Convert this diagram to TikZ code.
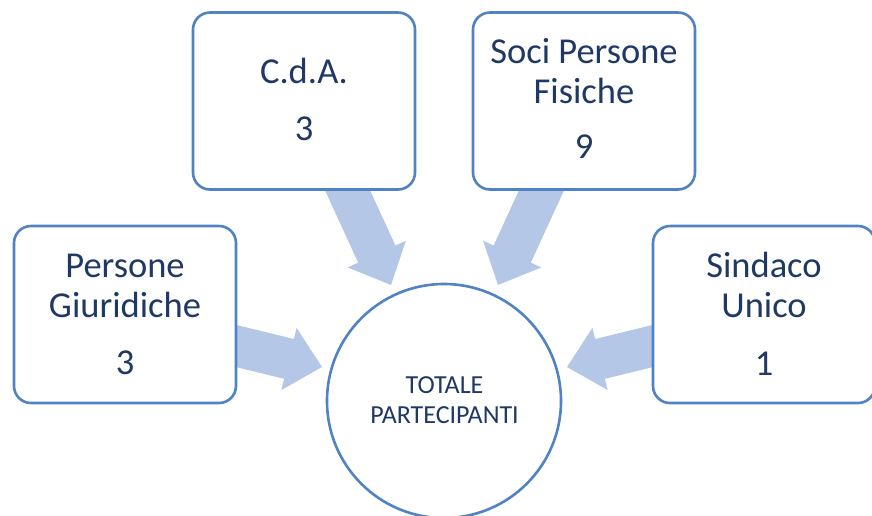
\documentclass[tikz,border=0pt]{standalone}
\usepackage{fontspec}
\setmainfont{Carlito}
\usetikzlibrary{calc}
\definecolor{bord}{HTML}{5082C4}
\definecolor{arrc}{HTML}{B4C7E7}
\definecolor{txtc}{HTML}{1F3864}
\newcommand{\blockarrow}[2]{%
  \coordinate (hb) at ($(#2)!34pt!(#1)$);
  \fill[arrc] ($(#1)!20.5pt!90:(#2)$) -- ($(hb)!20.5pt!90:(#2)$) -- ($(hb)!32pt!90:(#2)$) -- (#2)
    -- ($(hb)!32pt!-90:(#2)$) -- ($(hb)!20.5pt!-90:(#2)$) -- ($(#1)!20.5pt!-90:(#2)$) -- cycle;}
\tikzset{
  box/.style={draw=bord, line width=2.6pt, fill=white, rounded corners=17pt,
    minimum width=222pt, minimum height=177pt, inner sep=0pt},
  circ/.style={draw=bord, line width=2.6pt, fill=white, circle, minimum size=234pt, inner sep=0pt},
  big/.style={anchor=base, inner sep=0pt, text=txtc, font=\fontsize{36.5}{40}\selectfont},
  small/.style={anchor=base, inner sep=0pt, text=txtc, font=\fontsize{26}{30}\selectfont}
}
\begin{document}
\begin{tikzpicture}[x=1pt,y=-1pt]
\useasboundingbox (0,0) rectangle (872,515);
% arrow end points
\coordinate (pg-s) at (217,341.3);
\coordinate (pg-t) at (322,367);
\coordinate (cda-s) at (340.2,174.4);
\coordinate (cda-t) at (391,285);
\coordinate (soci-s) at (548.8,174.4);
\coordinate (soci-t) at (498,285);
\coordinate (sin-s) at (672,341.3);
\coordinate (sin-t) at (567,367);
\blockarrow{pg-s}{pg-t}
\blockarrow{cda-s}{cda-t}
\blockarrow{soci-s}{soci-t}
\blockarrow{sin-s}{sin-t}
% boxes
\node[box] (pg) at (125,314.5) {};
\node[box] (cda) at (304,101) {};
\node[box] (soci) at (584,101) {};
\node[box] (sin) at (764,314.5) {};
\node[circ] (tot) at (444,401) {};
% texts
\node[big] (pg1) at (125,277) {Persone};
\node[big] (pg2) at (125,317) {Giuridiche};
\node[big] (pg3) at (125,374) {3};
\node[big] (cda1) at (304,83) {C.d.A.};
\node[big] (cda2) at (304,140) {3};
\node[big] (soci1) at (584,63) {Soci Persone};
\node[big] (soci2) at (584,103) {Fisiche};
\node[big] (soci3) at (584,158) {9};
\node[big] (sin1) at (764,277) {Sindaco};
\node[big] (sin2) at (764,317) {Unico};
\node[big] (sin3) at (764,375) {1};
\node[small] (tot1) at (444.5,393) {TOTALE};
\node[small] (tot2) at (444.5,423) {PARTECIPANTI};
\end{tikzpicture}
\end{document}
